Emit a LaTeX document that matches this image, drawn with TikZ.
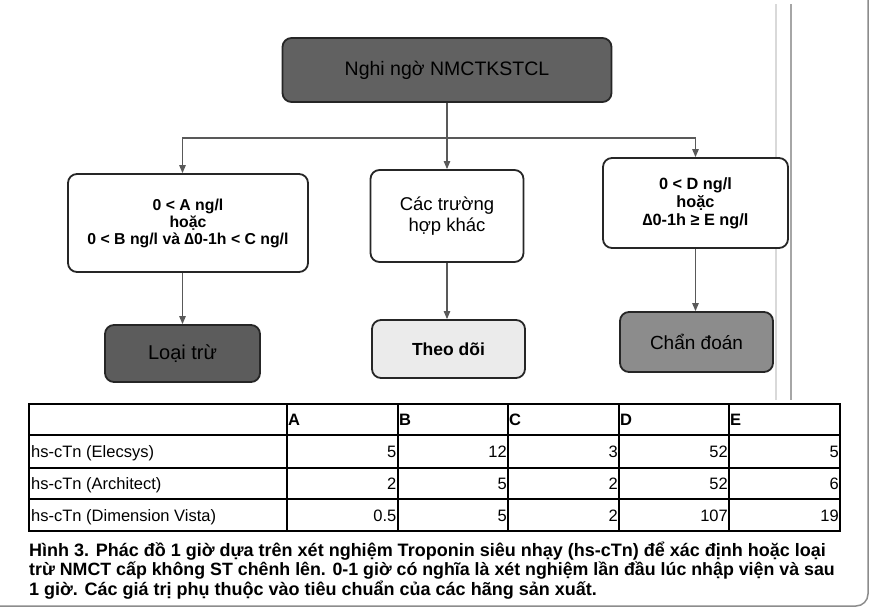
\documentclass[tikz,border=0pt]{standalone}
\usepackage{fontspec}
\setmainfont{Liberation Sans}
\usepackage{xcolor}
\usetikzlibrary{arrows.meta}
\usetikzlibrary{shapes}

\begin{document}
\begin{tikzpicture}[x=1pt,y=-1pt, every node/.style={inner sep=0pt},
    box/.style={draw=black!85, line width=1.8pt, rounded corners=9pt, align=center},
    link/.style={draw=black!65, line width=1.1pt},
    tip/.style={-{Triangle[length=8pt,width=6.5pt]}},
    cell/.style={font=\fontsize{16.5}{18}\selectfont},
    rule/.style={line width=1.6pt}]

    \useasboundingbox (0,0) rectangle (871,608);

    %===========================
    % Page edges
    %===========================

    \draw[black!45, line width=1.5pt, rounded corners=12pt] (-30,-30) rectangle (868,606);
    \draw[black!15, line width=1.2pt] (776,4) -- (776,400);
    \draw[black!35, line width=1.2pt] (791,4) -- (791,400);


    %===========================
    % Boxes
    %===========================
    \node (top) at (447,70) [box, fill=black!62, minimum width=329pt, minimum height=64pt, font=\fontsize{19.5}{22}\selectfont] {Nghi ngờ NMCTKSTCL};
    \coordinate (fork) at (447,138);

    % Left Side
    \node (lbox) at (188,223) [box, fill=white, minimum width=240pt, minimum height=98pt, font=\bfseries\fontsize{15.8}{17}\selectfont] {0 < A ng/l\\hoặc\\0 < B ng/l và ∆0-1h < C ng/l};
    \node (loai) at (182.5,353.5) [box, fill=black!64, minimum width=155pt, minimum height=57pt, font=\fontsize{20}{22}\selectfont] {Loại trừ};

    % Middle
    \node (mid) at (447,216) [box, fill=white, minimum width=153pt, minimum height=92pt, font=\fontsize{18.5}{21.5}\selectfont] {Các trường\\hợp khác};
    \node (theo) at (448.5,349) [box, fill=black!8, minimum width=153pt, minimum height=58pt, font=\bfseries\fontsize{17.5}{20}\selectfont] {Theo dõi};

    % Right Side
    \node (rbox) at (695.5,203) [box, fill=white, minimum width=185pt, minimum height=90pt, font=\bfseries\fontsize{16.3}{18}\selectfont] {0 < D ng/l\\hoặc\\∆0-1h ≥ E ng/l};
    \node (chan) at (696.5,342) [box, fill=black!45, minimum width=153pt, minimum height=60pt, font=\fontsize{19}{22}\selectfont] {Chẩn đoán};

    % Links
    \draw[link] (top.south) -- (fork);
    \draw[link, tip] (fork) -- (mid.north);
    \draw[link, tip] (fork) -| (lbox.north -| loai.north);
    \draw[link, tip] (fork) -| (rbox.north);
    \draw[link, tip] (lbox.south -| loai.north) -- (loai.north);
    \draw[link, tip] (mid.south) -- (mid.south |- theo.north);
    \draw[link, tip] (rbox.south) -- (rbox.south |- chan.north);


    %===========================
    % Table
    %===========================
    \draw[rule] (29,404) rectangle (840,531);
    \foreach \yy in {435,468,499} \draw[rule] (29,\yy) -- (840,\yy);
    \foreach \xx in {287,398,508,619,729} \draw[rule] (\xx,404) -- (\xx,531);

    \foreach \h/\xx in {A/287,B/398,C/508,D/619,E/729}
        \node (head\h) [anchor=base west, font=\bfseries\fontsize{16.5}{18}\selectfont] at (\xx+1,425.5) {\h};

    \foreach \lab/\va/\vb/\vc/\vd/\ve/\yy [count=\r] in {hs-cTn (Elecsys)/5/12/3/52/5/457.5, hs-cTn (Architect)/2/5/2/52/6/489.5, hs-cTn (Dimension Vista)/0.5/5/2/107/19/521}
    {
        \node (lab\r) [cell, anchor=base west] at (31,\yy) {\lab};
        \node (a\r) [cell, anchor=base east] at (396.5,\yy) {\va};
        \node (b\r) [cell, anchor=base east] at (507,\yy) {\vb};
        \node (c\r) [cell, anchor=base east] at (618,\yy) {\vc};
        \node (d\r) [cell, anchor=base east] at (728,\yy) {\vd};
        \node (e\r) [cell, anchor=base east] at (839,\yy) {\ve};
    }


    %===========================
    % Caption
    %===========================
    \node (cap1) [anchor=base west, font=\bfseries\fontsize{18}{20}\selectfont] at (29,556) {Hình 3. Phác đồ 1 giờ dựa trên xét nghiệm Troponin siêu nhạy (hs-cTn) để xác định hoặc loại};
    \node (cap2) [anchor=base west, font=\bfseries\fontsize{17.8}{20}\selectfont] at (29,575.5) {trừ NMCT cấp không ST chênh lên. 0-1 giờ có nghĩa là xét nghiệm lần đầu lúc nhập viện và sau};
    \node (cap3) [anchor=base west, font=\bfseries\fontsize{18}{20}\selectfont] at (29,595) {1 giờ. Các giá trị phụ thuộc vào tiêu chuẩn của các hãng sản xuất.};

\end{tikzpicture}
\end{document}
